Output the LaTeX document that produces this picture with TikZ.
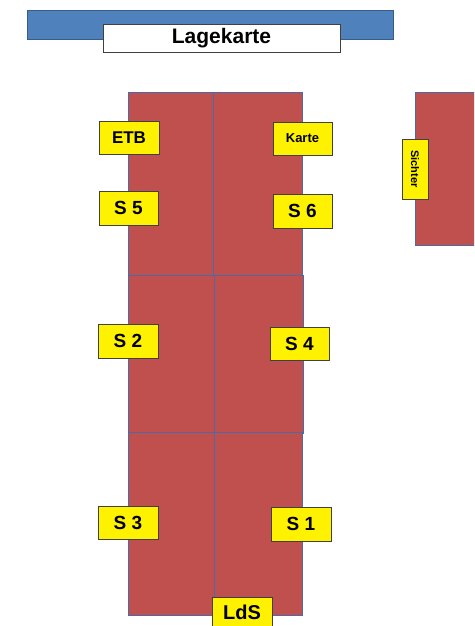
\documentclass[tikz,border=0pt]{standalone}
\usepackage{fontspec}
\setmainfont{Liberation Sans}
\usetikzlibrary{positioning}
\definecolor{tischrot}{HTML}{C0504D}
\definecolor{tischrand}{HTML}{4A6AA8}
\definecolor{balkenblau}{HTML}{4F81BD}
\definecolor{balkenrand}{HTML}{385D8A}
\tikzset{
  tisch/.style={draw=tischrand, fill=tischrot, line width=0.9pt, inner sep=0pt, anchor=north west},
  schild/.style={draw=black!75, fill=yellow, line width=0.7pt, inner sep=0pt,
    minimum width=60, minimum height=34, font=\bfseries\fontsize{19}{19}\selectfont},
}

\begin{document}
\begin{tikzpicture}[x=1pt,y=-1pt]
            \clip (0,0) rectangle (474,626);

            % Lagekarte oben
            \node[draw=balkenrand, fill=balkenblau, line width=0.9pt, anchor=north west,
                  minimum width=366, minimum height=29, inner sep=0pt] (balken) at (27,10) {};
            \node[draw=black!75, fill=white, line width=0.8pt, minimum width=237, minimum height=28,
                  inner sep=0pt, font=\bfseries\fontsize{21}{21}\selectfont] (lagekarte) at (221.5,38) {Lagekarte};

            % Tische (oben)
            \node[tisch, minimum width=85, minimum height=183] (t5) at (128,92) {};
            \node[tisch, minimum width=89, minimum height=183] (t6) at (213,92) {};

            % Tische (Mitte)
            \node[tisch, minimum width=86, minimum height=158] (t2) at (128,275) {};
            \node[tisch, minimum width=89, minimum height=158] (t4) at (214,275) {};

            % Tische (unten)
            \node[tisch, minimum width=86, minimum height=183] (t3) at (128,432) {};
            \node[tisch, minimum width=88, minimum height=183] (t1) at (214,432) {};

            % Tisch Sichter
            \node[tisch, minimum width=80, minimum height=153] (tsichter) at (415,92) {};

            % Schilder
            \node[schild, minimum height=33, font=\bfseries\fontsize{17}{17}\selectfont] (etb) at (129,137.5) {ETB};
            \node[schild, minimum width=59, minimum height=33, font=\bfseries\fontsize{13}{13}\selectfont] (karte) at (302.5,138.5) {Karte};
            \node[schild, minimum width=59] (s5) at (128.5,208) {S 5};
            \node[schild, minimum width=59] (s6) at (302.5,211) {S 6};
            \node[schild] (s2) at (128,341) {S 2};
            \node[schild, minimum width=59, minimum height=33] (s4) at (299.5,343.5) {S 4};
            \node[schild, minimum height=33] (s3) at (128,522.5) {S 3};
            \node[schild] (s1) at (301,524) {S 1};
            \node[schild, minimum height=31, font=\bfseries\fontsize{20}{20}\selectfont] (lds) at (242,612.5) {LdS};
            \node[schild, rotate=-90, minimum width=60, minimum height=26,
                  font=\bfseries\fontsize{11}{11}\selectfont] (sichter) at (415,169) {Sichter};
\end{tikzpicture}
\end{document}
